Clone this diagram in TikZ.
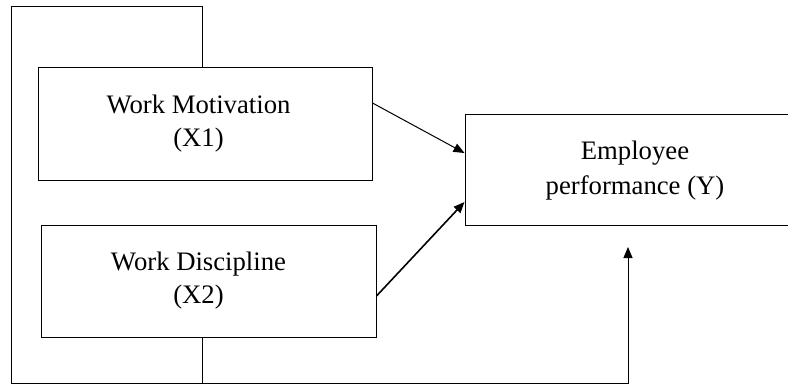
\documentclass[tikz,border=0pt]{standalone}
\usepackage{fontspec}
\setmainfont{Liberation Serif}
\usetikzlibrary{arrows.meta}

\begin{document}
\begin{tikzpicture}[x=1pt, y=-1pt, line width=1pt,
    box/.style={draw, rectangle, inner sep=0pt},
    txt/.style={align=center, font=\fontsize{26.7}{33}\selectfont},
    tip/.style={-{Triangle[length=11pt, width=9pt]}}]
    \useasboundingbox (0,0) rectangle (788,385);

    \node[box, minimum width=334pt, minimum height=113pt] at (205, 124.5) (mot) {};
    \node[txt] at (198.5, 124) (motT) {Work Motivation\\(X1)};

    \node[box, minimum width=335pt, minimum height=111pt] at (208.5, 281.5) (dis) {};
    \node[txt] at (198.5, 281) (disT) {Work Discipline\\(X2)};

    \node[box, minimum width=340pt, minimum height=111pt] at (635, 170.5) (emp) {};
    \node[txt, font=\fontsize{26.7}{35}\selectfont] at (635, 170.5) (empT) {Employee\\performance (Y)};

    \coordinate (tl) at (11, 7);
    \coordinate (bl) at (11, 383);
    \coordinate (join) at (202, 383);
    \coordinate (hit) at (628, 247);

    \draw[tip] ([yshift=21.5pt]mot.east) -- ([yshift=17.5pt]emp.west);
    \draw[tip, line width=1.6pt] ([yshift=-14.5pt]dis.east) -- ([yshift=-31.5pt]emp.west);

    \draw[tip] ([xshift=-3pt]mot.north) |- (tl) -- (bl) -| (hit);
    \draw ([xshift=-6.5pt]dis.south) -- (join);

\end{tikzpicture}
\end{document}
